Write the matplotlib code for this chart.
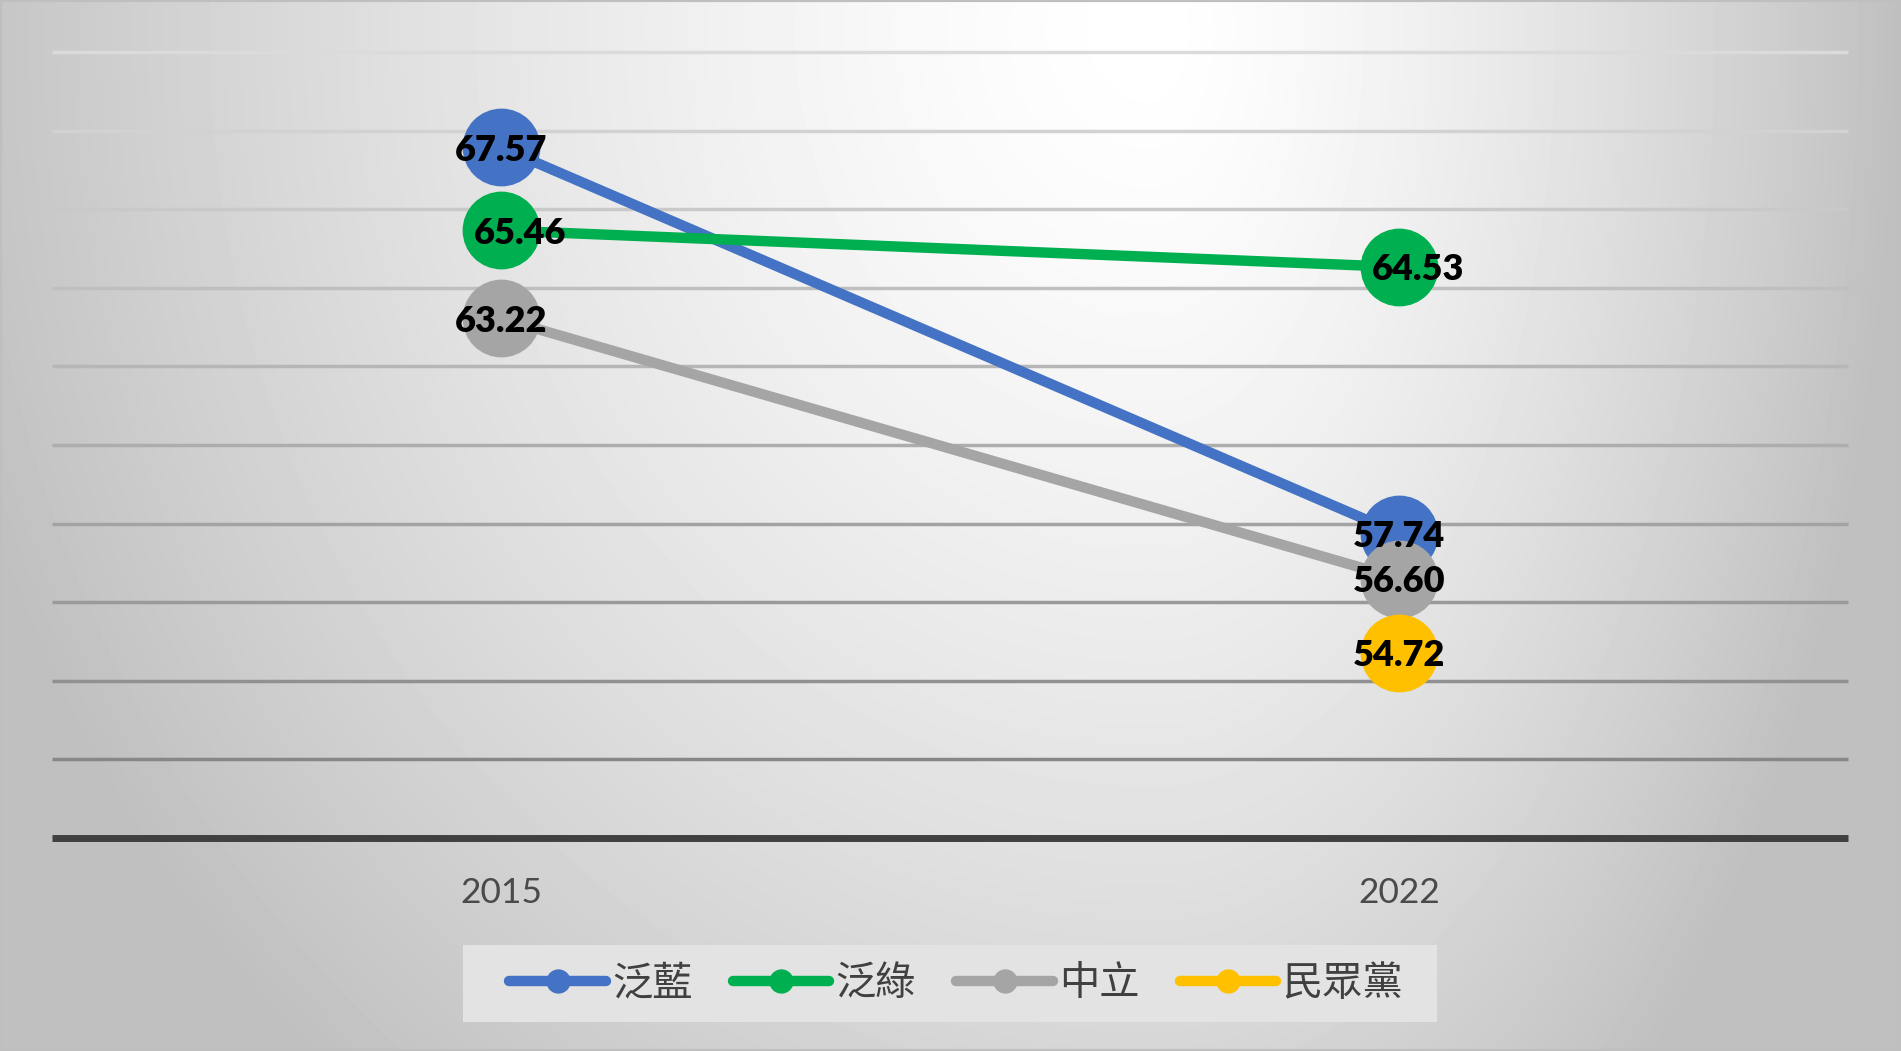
import matplotlib
matplotlib.use("Agg")
import matplotlib.pyplot as plt
from matplotlib.patches import Rectangle
import numpy as np

# data
years = ["2015", "2022"]
series_names = ["泛藍", "泛綠", "中立", "民眾黨"]
blue_vals = [67.57, 57.74]
green_vals = [65.46, 64.53]
gray_vals = [63.22, 56.60]
yellow_vals = [np.nan, 54.72]
colors = ["#4472C4", "#00B050", "#A5A5A5", "#FFC000"]

W, H = 1901, 1051
fig = plt.figure(figsize=(W / 100, H / 100), dpi=100)

# background gradient (light spot near top right of centre)
bg = fig.add_axes([0, 0, 1, 1])
xx, yy = np.meshgrid(np.arange(W), np.arange(H))
cx, cy = 1150, 30
sx = np.where(xx > cx, 750.0, 1250.0)
t = np.sqrt(((xx - cx) / sx) ** 2 + ((yy - cy) / 1400.0) ** 2)
g = np.clip(1 - 0.25 * t ** 1.4, 0.75, 1.0)
bg.imshow(g, cmap="gray", vmin=0, vmax=1, aspect="auto", interpolation="bilinear")
bg.set_axis_off()
bg.add_patch(Rectangle((0, 0), 1, 1, transform=bg.transAxes, fill=False,
                       edgecolor="#BFBFBF", linewidth=3, zorder=5))

ax = fig.add_axes([52 / W, 1 - 838 / H, (1848 - 52) / W, (838 - 52) / H])
ax.patch.set_alpha(0)
x = np.arange(len(years))

all_vals = [blue_vals, green_vals, gray_vals, yellow_vals]
lines = []
for name, vals, c in zip(series_names, all_vals, colors):
    ln, = ax.plot(x, vals, color=c, linewidth=7.5, marker="o", markersize=55,
                  markerfacecolor=c, markeredgecolor=c, solid_capstyle="round",
                  label=name, zorder=3)
    lines.append(ln)

# data labels
for i, (vals, c) in enumerate(zip(all_vals, colors)):
    dx = 14 if i == 1 else 0
    for xi, v in zip(x, vals):
        if np.isnan(v):
            continue
        ax.annotate(f"{v:.2f}", (xi, v), xytext=(dx, -2), textcoords="offset points",
                    ha="center", va="center", fontsize=26, fontweight="heavy",
                    family=["Lato", "DejaVu Sans"], color="black", zorder=10)

ax.set_xlim(-0.5, 1.5)
ax.set_ylim(50, 70)
ax.set_xticks(x)
ax.set_xticklabels(years, fontsize=25.5, color="#4A4A4A", family=["Lato", "DejaVu Sans"])
ax.set_yticks(np.arange(52, 71, 2))
ax.tick_params(axis="x", length=0, pad=28)
ax.tick_params(axis="y", length=0, labelleft=False)

ax.yaxis.grid(True, linewidth=2.5)
glines = ax.get_ygridlines()
for k, gl in enumerate(glines):
    f = k / (len(glines) - 1)
    shade = 0.53 + (0.86 - 0.53) * f
    gl.set_color((shade, shade, shade))
    gl.set_clip_on(False)
    gl.set_solid_capstyle("butt")
ax.set_axisbelow(True)

for s in ["top", "right", "left"]:
    ax.spines[s].set_visible(False)
ax.spines["bottom"].set_color("#404040")
ax.spines["bottom"].set_linewidth(5)
ax.spines["bottom"].set_capstyle("butt")

# legend box
fig.patches.append(Rectangle((463 / W, 1 - 1022 / H), (1437 - 463) / W, 77 / H,
                             transform=fig.transFigure, facecolor="#E3E3E3",
                             edgecolor="none", zorder=1))
leg = fig.legend(handles=lines, loc="center", bbox_to_anchor=(0.503, 1 - 983.5 / H),
                 ncol=4, frameon=False, markerscale=0.3, handlelength=2.4,
                 handletextpad=0.15, columnspacing=1.0,
                 prop={"family": ["Noto Sans CJK TC", "DejaVu Sans"], "size": 29,
                       "weight": "light"})
for txt in leg.get_texts():
    txt.set_color("#404040")

fig.savefig("out.png", dpi=100)
